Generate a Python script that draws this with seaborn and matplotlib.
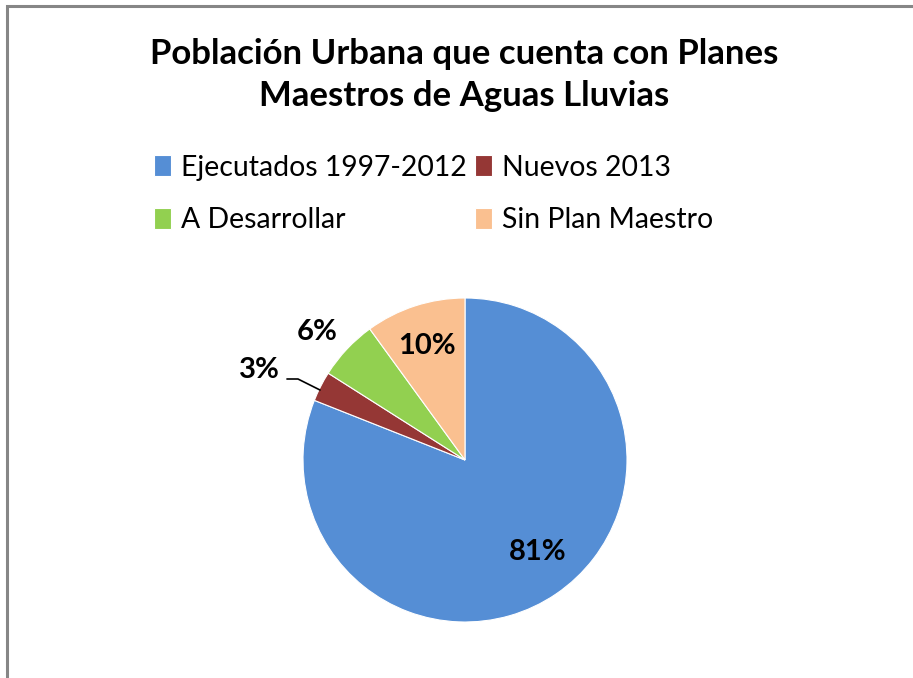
import matplotlib
matplotlib.use("Agg")
import matplotlib.pyplot as plt
import seaborn as sns
from matplotlib.patches import Rectangle

categories = ["Ejecutados 1997-2012", "Nuevos 2013", "A Desarrollar", "Sin Plan Maestro"]
values = [81, 3, 6, 10]
colors = ["#558ED5", "#953735", "#92D050", "#FAC090"]
title = "Población Urbana que cuenta con Planes\nMaestros de Aguas Lluvias"

sns.set_theme(style="white")
plt.rcParams["font.family"] = ["Lato", "DejaVu Sans"]
plt.rcParams["text.color"] = "black"

W, H = 913, 678
fig = plt.figure(figsize=(W / 100, H / 100), dpi=100)
fig.patch.set_facecolor("white")

# outer chart border (clipped at right/bottom like the reference)
fig.add_artist(Rectangle((7 / W, -0.1), 1.2, (H - 6) / H + 0.1,
                         transform=fig.transFigure, fill=False,
                         edgecolor="#868686", linewidth=2.2))

cx, cy, r = 465, 460, 162
ax = fig.add_axes([(cx - r) / W, (H - cy - r) / H, 2 * r / W, 2 * r / H])
wedges, texts, autotexts = ax.pie(values, colors=colors, startangle=90,
                                  counterclock=False, radius=1,
                                  autopct="%.0f%%",
                                  wedgeprops=dict(linewidth=0.8, edgecolor="white"),
                                  textprops=dict(fontsize=21, fontweight="bold",
                                                 color="black"))
ax.set_xlim(-1, 1)
ax.set_ylim(-1, 1)
ax.set_aspect("equal")
ax.axis("off")

label_pos = [(0.451, -0.568), (-1.27, 0.556), (-0.914, 0.79), (-0.235, 0.704)]
for t, (x, y) in zip(autotexts, label_pos):
    t.set_position((x, y))
    t.set_ha("center")
    t.set_va("center")
    t.set_clip_on(False)

ax.plot([-1.099, -1.031, -0.895], [0.5, 0.5, 0.432], color="black",
        linewidth=1.2, clip_on=False)

fig.text(464 / W, 1 - 75 / H, title, ha="center", va="center",
         fontsize=25, fontweight="bold", linespacing=1.35)

# row-wise legend order (matplotlib fills columns first)
order = [0, 2, 1, 3]
fig.legend([wedges[i] for i in order], [categories[i] for i in order],
           loc="center left", bbox_to_anchor=(154 / W, 1 - 194 / H), ncol=2,
           frameon=False, fontsize=20.4, handlelength=0.6, handleheight=0.75,
           handletextpad=0.35, columnspacing=0.3, labelspacing=0.95,
           borderpad=0, borderaxespad=0)

fig.savefig("out.png", dpi=100)
